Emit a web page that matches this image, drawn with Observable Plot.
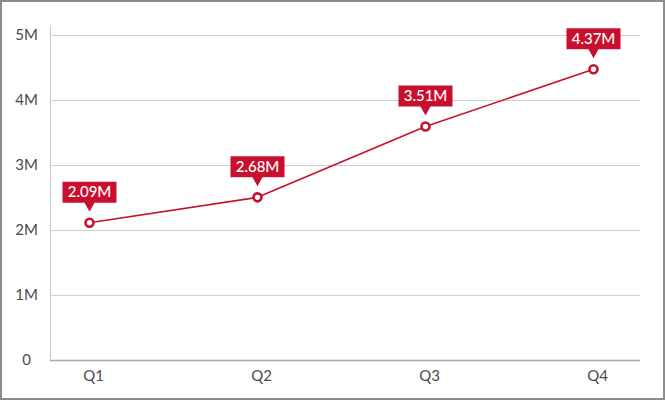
<!DOCTYPE html>
<html>
<head>
<meta charset="utf-8">
<script src="https://cdn.jsdelivr.net/npm/d3@7"></script>
<script src="https://cdn.jsdelivr.net/npm/@observablehq/plot@0.6"></script>
<style>
  html, body { margin: 0; padding: 0; background: #fff; }
  #wrap { position: relative; width: 665px; height: 400px; }
  #border { position: absolute; left: 0; top: 0; width: 665px; height: 400px; box-sizing: border-box; border: 2px solid #8c8c8c; pointer-events: none; }
</style>
</head>
<body>
<div id="wrap"><div id="chart"></div><div id="border"></div></div>
<script>
// Data
const quarters = ["Q1", "Q2", "Q3", "Q4"];
const values = [2.12e6, 2.51e6, 3.6e6, 4.48e6];      // plotted positions
const labels = ["2.09M", "2.68M", "3.51M", "4.37M"]; // callout texts
const yTicks = [0, 1e6, 2e6, 3e6, 4e6, 5e6];
const yTickLabels = ["0", "1M", "2M", "3M", "4M", "5M"];

const data = quarters.map((q, i) => ({q, v: values[i], label: labels[i]}));
const ticks = yTicks.map((t, i) => ({t, label: yTickLabels[i]}));

const red = "#c8102e";
const font = "Lato, 'Open Sans', sans-serif";

// callout box + pointer drawn above the point
const calloutSymbol = {
  draw(ctx) {
    const w = 27, top = -41, bottom = -20, tip = -11, n = 5;
    ctx.moveTo(-w, top);
    ctx.lineTo(w, top);
    ctx.lineTo(w, bottom);
    ctx.lineTo(n, bottom);
    ctx.lineTo(0, tip);
    ctx.lineTo(-n, bottom);
    ctx.lineTo(-w, bottom);
    ctx.closePath();
  }
};

const chart = Plot.plot({
  width: 665,
  height: 400,
  marginLeft: 50,
  marginRight: 25,
  marginTop: 25,
  marginBottom: 40,
  style: {fontFamily: font, background: "#fff"},
  x: {type: "point", domain: quarters, range: [88, 593], padding: 0, axis: null},
  y: {domain: [0, 5e6], range: [360, 35], axis: null},
  marks: [
    Plot.ruleY(yTicks.filter(t => t > 0), {stroke: "#cfcfcf", strokeWidth: 1.2}),
    Plot.frame({anchor: "left", stroke: "#cfcfcf", strokeWidth: 1.2}),
    Plot.ruleY([0], {stroke: "#a8a8a8", strokeWidth: 1.5}),
    Plot.text(ticks, {y: "t", text: "label", frameAnchor: "left", dx: -24, textAnchor: "middle", fontSize: 15, fill: "#4a4a4a"}),
    Plot.text(quarters, {x: d => d, text: d => d, frameAnchor: "bottom", dy: 20, dx: 4, fontSize: 15, fill: "#4a4a4a"}),
    Plot.line(data, {x: "q", y: "v", stroke: red, strokeWidth: 1.6}),
    Plot.dot(data, {x: "q", y: "v", r: 4, fill: "#fff", stroke: red, strokeWidth: 2.6}),
    Plot.dot(data, {x: "q", y: "v", symbol: calloutSymbol, fill: red, stroke: "none"}),
    Plot.text(data, {x: "q", y: "v", text: "label", dy: -30.5, fill: "#fff", fontSize: 15, fontWeight: 500})
  ]
});
document.getElementById("chart").appendChild(chart);
</script>
</body>
</html>
